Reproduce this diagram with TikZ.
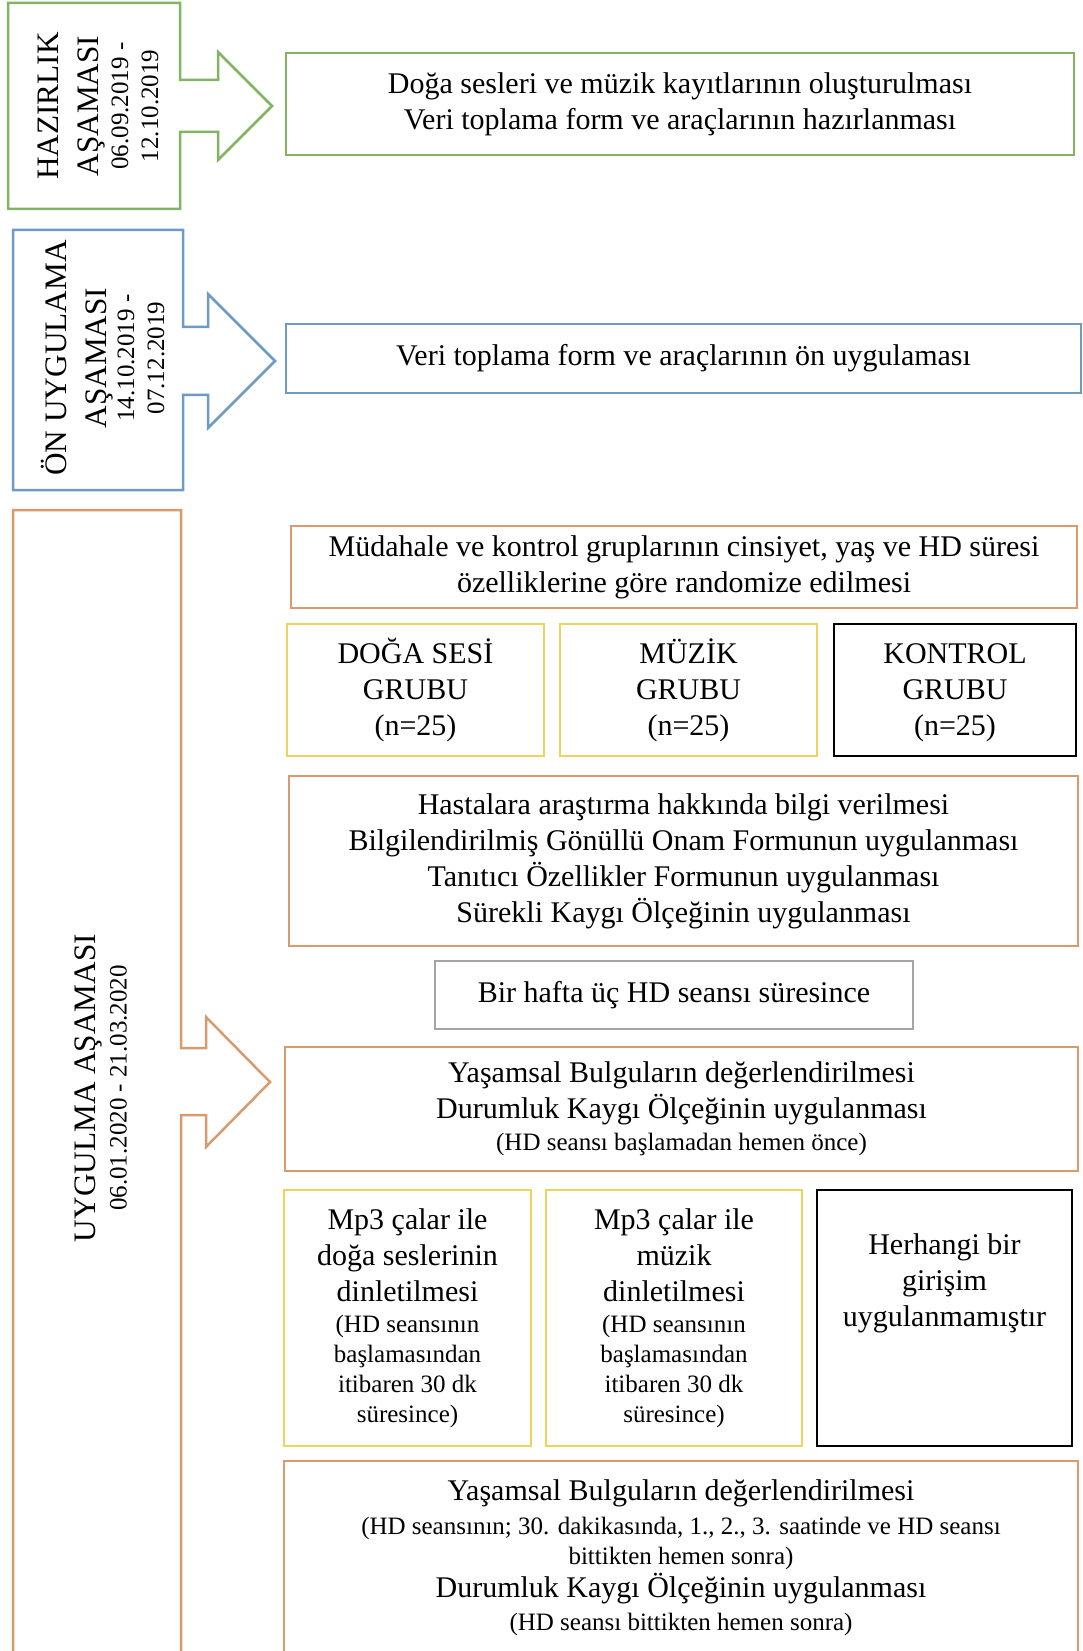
\documentclass[tikz,border=0pt]{standalone}
\usepackage{fontspec}
\setmainfont{Liberation Serif}
\definecolor{prepgreen}{RGB}{130,180,100}
\definecolor{pilotblue}{RGB}{110,155,195}
\definecolor{mainorange}{RGB}{215,155,110}
\definecolor{stepyellow}{RGB}{238,212,95}
\definecolor{stepgray}{RGB}{165,165,165}
\newcommand{\smalltxt}[1]{{\fontsize{10}{12}\selectfont #1}}

\begin{document}
\begin{tikzpicture}[x=0.4pt, y=-0.4pt,
	every node/.style={text centered, align=center, font=\fontsize{12}{14.4}\selectfont},
	box/.style={rectangle, draw, line width=1pt, inner sep=0pt},
	phase/.style={line width=1pt, fill=white, line join=miter},
	phasetext/.style={rotate=90, font=\fontsize{12.5}{16}\selectfont}]

	\useasboundingbox (0,0) rectangle (1083,1651);
	\clip (0,0) rectangle (1083,1651);

	% phase callouts
	\draw[phase, draw=prepgreen] (8,3) -- (180,3) -- (180,80) -- (218,80) -- (218,52)
		-- (272,106) -- (218,160) -- (218,132) -- (180,132) -- (180,209) -- (8,209) -- cycle;
	\draw[phase, draw=pilotblue] (13,230) -- (183,230) -- (183,327) -- (208,327) -- (208,294)
		-- (275,361) -- (208,428) -- (208,395) -- (183,395) -- (183,490) -- (13,490) -- cycle;
	\draw[phase, draw=mainorange] (13,510) -- (181,510) -- (181,1048) -- (206,1048) -- (206,1017)
		-- (270,1082) -- (206,1147) -- (206,1115) -- (181,1115) -- (181,1665) -- (13,1665) -- cycle;

	\draw 	(98, 106)	node[phasetext] (preplabel)
				{HAZIRLIK\\AŞAMASI\\[-4pt]\smalltxt{06.09.2019 -}\\[-4pt]\smalltxt{12.10.2019}}
			(103, 358)	node[phasetext] (pilotlabel)
				{ÖN UYGULAMA\\AŞAMASI\\[-5pt]\smalltxt{14.10.2019 -}\\[-4pt]\smalltxt{07.12.2019}}
			(101, 1088)	node[phasetext] (mainlabel)
				{UYGULMA AŞAMASI\\[-3.6pt]\smalltxt{06.01.2020 - 21.03.2020}}
	;

	% preparation and pilot
	\draw 	(680, 104)	node[box, draw=prepgreen, minimum width=315.2pt, minimum height=40.8pt] (prepwork)
				{Doğa sesleri ve müzik kayıtlarının oluşturulması\\Veri toplama form ve araçlarının hazırlanması}

			(683.5, 358.5)	node[box, draw=pilotblue, minimum width=318pt, minimum height=27.6pt] (pilotwork)
				{Veri toplama form ve araçlarının ön uygulaması}
	;

	% application
	\draw 	(684, 567)	node[box, draw=mainorange, minimum width=314.4pt, minimum height=32.8pt] (randomize)
				{Müdahale ve kontrol gruplarının cinsiyet, yaş ve HD süresi\\özelliklerine göre randomize edilmesi}

			(415.5, 690)	node[box, draw=stepyellow, minimum width=102.8pt, minimum height=52.8pt] (naturegrp)
				{DOĞA SESİ\\GRUBU\\(n=25)}
			(688.5, 690)	node[box, draw=stepyellow, minimum width=102.8pt, minimum height=52.8pt] (musicgrp)
				{MÜZİK\\GRUBU\\(n=25)}
			(955, 690)	node[box, draw=black, minimum width=96.8pt, minimum height=52.8pt] (controlgrp)
				{KONTROL\vphantom{Ğ}\\GRUBU\\(n=25)}

			(683.5, 861)	node[box, draw=mainorange, minimum width=315.6pt, minimum height=68pt] (consent)
				{Hastalara araştırma hakkında bilgi verilmesi\\Bilgilendirilmiş Gönüllü Onam Formunun uygulanması\\Tanıtıcı Özellikler Formunun uygulanması\\Sürekli Kaygı Ölçeğinin uygulanması}

			(674, 995)	node[box, draw=stepgray, minimum width=191.2pt, minimum height=27.2pt] (oneweek)
				{Bir hafta üç HD seansı süresince}

			(681.5, 1109)	node[box, draw=mainorange, minimum width=317.2pt, minimum height=49.6pt] (pretest)
				{Yaşamsal Bulguların değerlendirilmesi\\Durumluk Kaygı Ölçeğinin uygulanması\\[-1.6pt]\smalltxt{(HD seansı başlamadan hemen önce)}}

			(407.5, 1318)	node[box, draw=stepyellow, minimum width=98.8pt, minimum height=102.4pt] (naturemp3)
				{Mp3 çalar ile\\doğa seslerinin\\dinletilmesi\\[-2pt]\smalltxt{(HD seansının}\\[-2.4pt]\smalltxt{başlamasından}\\[-2.4pt]\smalltxt{itibaren 30 dk}\\[-2.4pt]\smalltxt{süresince)}}
			(674, 1318)	node[box, draw=stepyellow, minimum width=102.4pt, minimum height=102.4pt] (musicmp3)
				{Mp3 çalar ile\\müzik\\dinletilmesi\\[-2pt]\smalltxt{(HD seansının}\\[-2.4pt]\smalltxt{başlamasından}\\[-2.4pt]\smalltxt{itibaren 30 dk}\\[-2.4pt]\smalltxt{süresince)}}
			(944.5, 1318)	node[box, draw=black, minimum width=102pt, minimum height=102.4pt] (nocare)
				{}
			(944.5, 1283)	node (nocaretext)
				{Herhangi bir\\girişim\\uygulanmamıştır}

			(681, 1558)	node[box, draw=mainorange, minimum width=317.6pt, minimum height=77.6pt] (posttest)
				{Yaşamsal Bulguların değerlendirilmesi\\[-0.8pt]\smalltxt{(HD seansının; 30. dakikasında, 1., 2., 3. saatinde ve HD seansı}\\[-2.4pt]\smalltxt{bittikten hemen sonra)}\\[-1.2pt]Durumluk Kaygı Ölçeğinin uygulanması\\[-1.2pt]\smalltxt{(HD seansı bittikten hemen sonra)}}
	;
\end{tikzpicture}
\end{document}
